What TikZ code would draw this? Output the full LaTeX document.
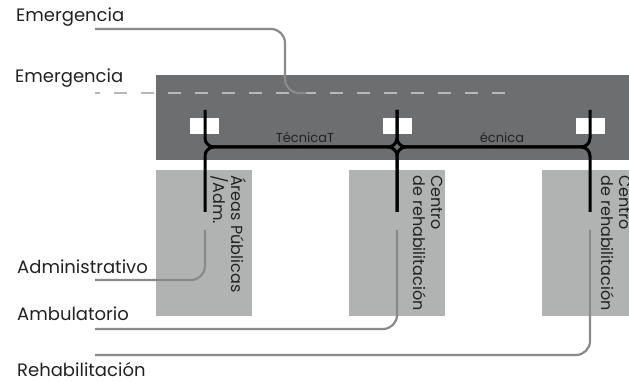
\documentclass[tikz,border=0pt]{standalone}
\usepackage{fontspec}
\setmainfont{Poppins}
\definecolor{bandgray}{HTML}{6D6E70}
\definecolor{blockgray}{HTML}{B1B3B3}
\definecolor{dashgray}{HTML}{B8B8B8}
\definecolor{feedgray}{HTML}{8A8A8A}
\definecolor{txt}{HTML}{222222}
\begin{document}
\begin{tikzpicture}[x=1pt,y=-1pt,
  lbl/.style={font=\fontsize{18}{20}\selectfont, text=txt, inner sep=0pt, anchor=base west},
  vlbl/.style={font=\fontsize{16}{18}\selectfont, text=txt, inner sep=0pt, anchor=base west, rotate=-90},
  slbl/.style={font=\fontsize{13}{15}\selectfont, text=txt, inner sep=0pt, anchor=base},
  block/.style={fill=blockgray, draw=none, inner sep=0pt, anchor=north west, minimum width=96pt, minimum height=146pt},
  wsq/.style={fill=white, draw=none, inner sep=0pt, minimum width=29pt, minimum height=16pt},
  route/.style={line width=3pt, black, rounded corners=9pt},
  feed/.style={line width=2.2pt, feedgray, rounded corners=14pt},
  dashline/.style={line width=2.2pt, dashgray, dash pattern=on 13pt off 14pt, dash phase=8pt}]
\useasboundingbox (0,0) rectangle (629,382);
\clip (0,0) rectangle (629,382);
% band
\fill[bandgray] (156,75) rectangle (640,160);
% blocks
\node[block] (b1) at (156,170) {};
\node[block] (b2) at (349,170) {};
\node[block] (b3) at (542,170) {};
% white squares
\node[wsq] (s1) at (204,126) {};
\node[wsq] (s2) at (397,126) {};
\node[wsq] (s3) at (590,126) {};
% coordinates
\coordinate (tL) at (205,110);
\coordinate (bL) at (205,212);
\coordinate (tM) at (397,110);
\coordinate (bM) at (397,212);
\coordinate (tR) at (590,110);
\coordinate (bR) at (590,212);
\coordinate (h1) at (300,147);
\coordinate (h2) at (495,147);
% dashed emergency line
\coordinate (d0) at (95,93);
\coordinate (d1) at (517,93);
\draw[dashline] (d0) -- (d1);
% black routes
\draw[route] (tL) |- (h1);
\draw[route] (bL) |- (h1);
\draw[route] (tM) |- (h1);
\draw[route] (bM) |- (h1);
\draw[route] (tM) |- (h2);
\draw[route] (bM) |- (h2);
\draw[route] (tR) |- (h2);
\draw[route] (bR) |- (h2);
% labels on band
\node[slbl] (t1) at (305,143) {TécnicaT};
\node[slbl] (t2) at (502,143) {écnica};
% left labels
\node[lbl] (e1) at (16,22) {Emergencia};
\node[lbl] (e2) at (15,83) {Emergencia};
\node[lbl] (ad) at (17,273) {Administrativo};
\node[lbl] (am) at (17,320) {Ambulatorio};
\node[lbl] (re) at (17,376) {Rehabilitación};
% feed lines
\coordinate (f0) at (95,29);
\coordinate (f1) at (306,93);
\coordinate (a0) at (95,280);
\coordinate (a1) at (205,230);
\coordinate (m0) at (95,329);
\coordinate (m1) at (397,230);
\coordinate (r0) at (95,355);
\coordinate (r1) at (590,230);
\draw[feed] (f0) -| (285,93) -- (f1);
\draw[feed] (a0) -| (a1);
\draw[feed] (m0) -| (m1);
\draw[feed] (r0) -| (r1);
% vertical block texts
\node[vlbl] (v1a) at (231,175) {Áreas Públicas};
\node[vlbl] (v1b) at (213,175) {/Adm.};
\node[vlbl] (v2a) at (431,175) {Centro};
\node[vlbl] (v2b) at (413,175) {de rehabilitación};
\node[vlbl] (v3a) at (619,175) {Centro};
\node[vlbl] (v3b) at (601,175) {de rehabilitación};
\end{tikzpicture}
\end{document}
